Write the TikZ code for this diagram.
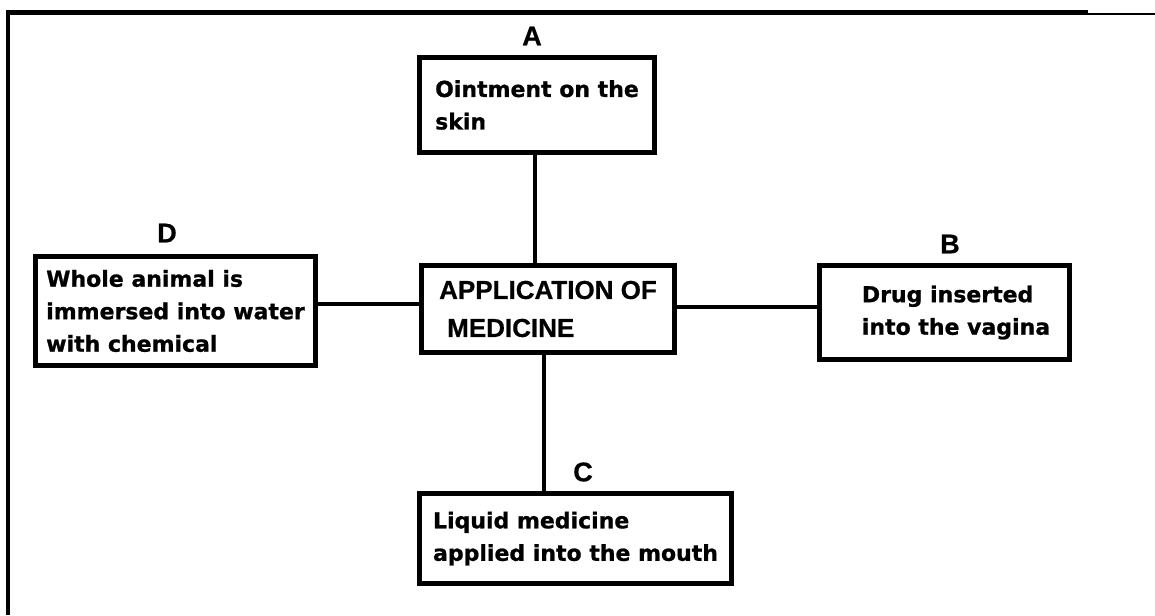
\documentclass[tikz,border=0pt]{standalone}
\usepackage{fontspec}
\setmainfont{Liberation Sans}[BoldFeatures={FakeBold=0.6}]
\newfontfamily\boxfont{DejaVu Sans}[BoldFeatures={FakeBold=0.9}]
\begin{document}
\tikzset{
  boxnode/.style={draw, line width=5pt, outer sep=0pt, inner sep=0pt, align=left,
    font=\boxfont\bfseries\fontsize{22}{32.5}\selectfont},
  hubnode/.style={draw, line width=5pt, outer sep=0pt, inner sep=0pt, align=left,
    font=\bfseries\fontsize{26}{38}\selectfont},
  letter/.style={font=\bfseries\fontsize{27}{30}\selectfont, inner sep=0pt},
  link/.style={line width=4.5pt},
  frame/.style={line width=4.5pt, line join=miter}
}
\begin{tikzpicture}[x=1pt,y=-1pt]
\useasboundingbox (0,0) rectangle (1155,615);
% outer frame
\draw[frame] (8,615) -- (8,12.5) -- (1088,12.5);
\draw[line width=2.5pt] (1087,14) -- (1155,14);

% centre
\node[hubnode, minimum width=253pt, minimum height=87pt] (M) at (548,309)
  {APPLICATION OF\\\hspace*{8pt}MEDICINE};

% boxes
\node[boxnode, minimum width=235pt, minimum height=95pt] (A) at (537,105)
  {Ointment on the\\skin};
\node[boxnode, minimum width=250pt, minimum height=94pt] (B) at (944.5,312.5)
  {\hspace*{23pt}Drug inserted\\\hspace*{23pt}into the vagina};
\node[boxnode, minimum width=312pt, minimum height=90pt] (C) at (575.5,538.5)
  {Liquid medicine\\applied into the mouth};
\node[boxnode, minimum width=280pt, minimum height=109pt] (D) at (175.5,311)
  {Whole animal is\\immersed into water\\with chemical};

% letters
\node[letter] (la) at (532,36) {A};
\node[letter] (lb) at (950,244) {B};
\node[letter] (lc) at (583,472) {C};
\node[letter] (ld) at (167,233) {D};

% connectors
\draw[link] ([xshift=-2pt]A.south) -- ([xshift=-2pt]A.south |- M.north);
\draw[link] ([xshift=-4pt]M.south) -- ([xshift=-4pt]M.south |- C.north);
\draw[link] ([yshift=2pt]M.east) -- ([yshift=2pt]M.east -| B.west);
\draw[link] ([yshift=5pt]M.west) -- ([yshift=5pt]M.west -| D.east);
\end{tikzpicture}
\end{document}
